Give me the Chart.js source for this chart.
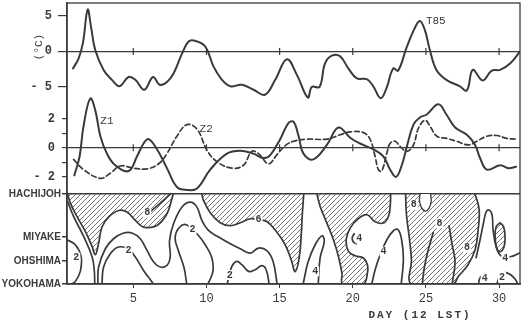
<!DOCTYPE html>
<html>
<head>
<meta charset="utf-8">
<script src="https://cdn.jsdelivr.net/npm/chart.js@4/dist/chart.umd.min.js"></script>
<style>
  html, body { margin: 0; padding: 0; background: #fff; }
  canvas { display: block; }
</style>
</head>
<body>
<canvas id="c" width="527" height="325"></canvas>
<script>
// ---- axis ticks ----
const dayTicks = [5, 10, 15, 20, 25, 30];
const t85Ticks = [-5, 0, 5];
const zTicks = [-2, -1, 0, 1, 2];
const stationPos = [0, 23, 47, 90];
const stationNames = ['YOKOHAMA', 'OHSHIMA', 'MIYAKE', 'HACHIJOH'];

// ---- T85 (deg C) ----
const t85Days = [0.88, 1.26, 1.56, 1.88, 2.11, 2.40, 2.97, 3.54, 4.06, 4.68, 5.14, 5.75, 6.35, 6.8, 7.3, 7.75, 8.33, 8.78, 9.23, 9.92,
  10.48, 11.06, 11.63, 12.42, 13.22, 14.0, 14.7, 15.5, 16.18, 16.93, 17.2, 17.73, 18.1, 18.57, 19.14, 19.7, 20.28, 20.96, 21.4, 21.9,
  22.3, 22.76, 23.1, 23.67, 24.17, 24.58, 24.93, 25.27, 25.72, 26.4, 27.3, 27.8, 28.2, 28.88, 29.5, 30.07, 30.75, 31.43];
const t85Values = [-2.4, -1.0, 1.2, 5.9, 3.5, 0.2, -2.6, -4.0, -4.9, -3.6, -4.0, -5.4, -3.6, -4.7, -4.3, -3.1, -0.3, 1.4, 1.5, 0.7,
  -2.1, -4.0, -4.9, -4.7, -5.4, -6.1, -4.0, -1.1, -3.3, -6.5, -5.0, -5.0, -1.7, -0.6, -0.7, -2.4, -3.8, -3.9, -4.9, -6.6,
  -5.2, -2.4, -2.7, 0.5, 3.0, 4.3, 3.0, 0.2, -2.6, -4.0, -4.9, -5.5, -2.6, -4.1, -2.7, -2.6, -1.7, 0.0];

// ---- Z1 (solid) and Z2 (dashed) ----
const z1Days = [0.97, 1.33, 1.6, 2.06, 2.4, 2.75, 3.2, 3.77, 4.68, 5.25, 5.7, 6.05, 6.62, 7.3, 7.98, 8.67, 9.35, 10.26, 11.4, 12.3,
  13.2, 13.9, 14.36, 15.04, 15.6, 15.95, 16.3, 16.63, 17.3, 18.23, 19.02, 19.82, 20.5, 21.4, 22.1, 22.55, 22.96, 23.35, 23.7, 24.15,
  24.6, 25.06, 25.85, 26.4, 27.0, 27.8, 28.36, 28.7, 29.16, 30.07, 30.64, 31.16];
const z1Values = [-1.9, -0.6, 1.5, 3.4, 2.6, 0.8, -0.4, -1.2, -1.6, -0.6, 0.3, 0.6, -0.1, -1.4, -2.7, -2.9, -2.8, -1.5, -0.4, -0.2,
  -0.4, -0.7, -0.5, 0.6, 1.7, 1.8, 0.8, -0.4, -0.8, 0.2, 1.4, 0.7, 0.3, -0.1, -0.6, -1.5, -2.0, -1.2, 0.1, 1.6,
  2.1, 2.3, 3.0, 2.3, 1.4, 0.9, 0.2, -0.7, -1.5, -1.2, -1.4, -1.3];
const z2Days = [0.92, 1.6, 2.75, 3.43, 4.11, 5.02, 5.94, 6.73, 7.3, 7.98, 8.67, 9.35, 10.03, 10.71, 11.74, 12.53, 13.1, 13.56, 14.24, 14.8,
  15.38, 15.95, 16.86, 18.23, 19.14, 19.82, 20.73, 21.18, 21.53, 21.75, 21.98, 22.32, 22.55, 22.9, 23.24, 23.7, 24.15, 24.49, 24.95, 25.3,
  25.75, 26.43, 27.1, 27.9, 28.47, 29.16, 29.84, 30.52, 31.16];
const z2Values = [-0.8, -1.5, -2.1, -1.75, -1.25, -1.4, -1.45, -1.1, -0.4, 0.8, 1.6, 1.3, -0.15, -0.95, -1.4, -1.2, -0.25, -0.4, -1.1, -0.5,
  0.15, 0.45, 0.6, 0.6, 0.9, 1.1, 1.05, 0.6, -0.6, -1.5, -1.6, -0.4, 0.3, 0.45, 0.1, -0.25, 0.2, 1.35, 1.9, 1.45,
  0.8, 0.65, 0.45, 0.2, 0.45, 0.8, 0.85, 0.65, 0.6];

// ---- contour panel: [day, station distance] ----
const hatchA = [[0.51, 90], [0.70, 81], [1.15, 67.6], [1.72, 52.6], [2.18, 37.6], [2.40, 29.3], [2.61, 39.3], [2.86, 57], [3.31, 67],
  [4.0, 73.6], [4.57, 72], [5.14, 63.6], [5.70, 57], [6.62, 58.6], [7.30, 70.3], [7.64, 85.3], [7.73, 90]];
const hatchB = [[9.69, 90], [9.78, 84.3], [10.26, 71.3], [10.94, 61.3], [11.63, 58.3], [12.31, 61.3], [12.99, 65.3], [13.54, 64.3],
  [14.15, 62.3], [14.84, 51.3], [15.38, 39.3], [15.79, 24.3], [16.07, 12.3], [16.34, 26.3], [16.48, 49.3], [16.55, 69.3], [16.65, 90]];
const hatchC = [[17.55, 90], [17.77, 77.6], [18.23, 61], [18.68, 44.3], [19.02, 27.6], [19.26, 11], [19.32, 0], [20.73, 0], [21.0, 11],
  [21.0, 19.3], [20.73, 26], [20.16, 28.3], [19.71, 32.6], [19.55, 44.3], [19.82, 56], [20.37, 65.3], [20.98, 69.3], [21.53, 62.3],
  [22.10, 61], [22.44, 67.6], [22.56, 77.6], [22.59, 90]];
const hatchD = [[23.61, 90], [23.67, 69.3], [23.88, 44.3], [24.01, 24.3], [24.02, 0], [26.86, 0], [27.2, 7.3], [27.88, 19.3],
  [28.36, 34.3], [28.57, 54.3], [28.64, 74.3], [28.36, 90]];
const hatchE = [[30.07, 61.3], [30.31, 57.3], [30.41, 47.3], [30.34, 37.3], [30.07, 32.3], [29.83, 36.3], [29.73, 47.3], [29.80, 57.3], [30.07, 61.3]];
const holeD = [[24.60, 90], [24.56, 83.5], [24.68, 77], [24.95, 73], [25.22, 76], [25.36, 83], [25.32, 90]];

const contourLines = [
  [[0.47, 44.3], [1.04, 39.3], [1.43, 27.6], [1.38, 12.6], [1.04, 2.6], [0.77, 0]],
  [[0.51, 82.6], [0.92, 67.6], [1.61, 47.6], [2.18, 27.6], [2.33, 14], [2.37, 0]],
  [[2.58, 0], [2.63, 17], [3.09, 35.3], [3.65, 45.3], [4.34, 51], [4.91, 51], [5.48, 45.3], [5.94, 33.6], [6.39, 22], [6.84, 17],
    [7.30, 18.6], [7.52, 27], [7.48, 43.6], [7.75, 60.3], [8.33, 77], [8.89, 82], [9.35, 77], [9.69, 63.6], [10.14, 53.6], [10.83, 47],
    [11.63, 40.3], [12.31, 35.3], [12.99, 31], [13.56, 36], [14.13, 33.3], [14.56, 22.3], [14.83, 0]],
  [[2.86, 0], [2.97, 17], [3.43, 30.3], [4.0, 37], [4.66, 35], [5.14, 27], [5.70, 13.6], [6.28, 2], [6.36, 0]],
  [[6.23, 73.3], [6.71, 79.3], [7.25, 86.3], [7.53, 90]],
  [[8.65, 0], [8.47, 16.3], [8.06, 34.3], [7.86, 46.3], [8.13, 56.3], [8.61, 59.3], [9.41, 49.3], [9.96, 38.3], [10.37, 26.3], [10.44, 12.3], [10.10, 0]],
  [[11.42, 0], [11.56, 9.3], [11.76, 18.3], [12.08, 22.6], [12.42, 19.3], [12.88, 12.6], [13.33, 14.3], [13.79, 18.3], [14.08, 14.3], [14.29, 0]],
  [[16.61, 0], [16.95, 22.3], [17.43, 39.3], [17.91, 48.3], [18.05, 42.3], [17.77, 26.3], [17.64, 0]],
  [[20.10, 50.3], [19.96, 46.3], [20.03, 42.3], [20.23, 40.3]],
  [[21.30, 0], [21.53, 14.3], [21.87, 29.3], [22.33, 44.3], [22.78, 53.3], [23.10, 54.3], [23.34, 44.3], [23.46, 24.3], [23.31, 0]],
  [[25.50, 51.3], [25.16, 34.3], [24.89, 16.3], [24.75, 0]],
  [[26.58, 58.3], [26.79, 39.3], [26.99, 22.3], [26.79, 0]],
  [[28.43, 26.3], [28.70, 44.3], [28.91, 59.3], [29.12, 72.3], [29.32, 74], [29.52, 69.3], [29.59, 54.3], [29.80, 37.3], [30.13, 28.3], [30.87, 27.6], [31.43, 31.3]],
  [[28.59, 0], [28.67, 5.3], [28.84, 8.8]],
  [[29.85, 0], [30.04, 7.3], [30.38, 11.3], [30.79, 9.3], [31.13, 4.3], [31.27, 0]]
];
const contourLabels = [
  [1.11, 26.3, '2'], [4.68, 34.0, '2'], [5.95, 71.3, '8'], [9.05, 54.8, '2'], [13.56, 64.3, '6'], [11.6, 9.0, '2'],
  [17.43, 12.6, '4'], [20.44, 45.8, '4'], [22.10, 32.6, '4'], [24.17, 79.3, '8'], [25.92, 61.0, '8'], [27.81, 36.3, '8'],
  [30.43, 26.0, '4'], [29.02, 6.0, '4'], [30.2, 7.0, '2']
];

const ink = '#3a3a3a';
const pts = (xs, ys) => xs.map((x, i) => ({ x: x, y: ys[i] }));
const poly = arr => arr.map(p => ({ x: p[0], y: p[1] }));

const canvas = document.getElementById('c');
const ctx = canvas.getContext('2d');

// diagonal hatching for the shaded areas
const tile = document.createElement('canvas');
tile.width = 5; tile.height = 5;
const tg = tile.getContext('2d');
tg.strokeStyle = '#555';
tg.lineWidth = 0.8;
tg.beginPath();
tg.moveTo(0, 5); tg.lineTo(5, 0);
tg.moveTo(-1, 1); tg.lineTo(1, -1);
tg.moveTo(4, 6); tg.lineTo(6, 4);
tg.stroke();
const hatch = ctx.createPattern(tile, 'repeat');

const datasets = [
  { data: pts(t85Days, t85Values), yAxisID: 'yT', borderWidth: 2 },
  { data: pts(z1Days, z1Values), yAxisID: 'yZ', borderWidth: 2 },
  { data: pts(z2Days, z2Values), yAxisID: 'yZ', borderWidth: 1.7, borderDash: [5, 3] },
  { data: poly(holeD), yAxisID: 'yC', fill: 'shape', backgroundColor: '#fff', borderWidth: 1.3 }
];
contourLines.forEach(l => datasets.push({ data: poly(l), yAxisID: 'yC', borderWidth: 1.7 }));
[hatchA, hatchB, hatchC, hatchD, hatchE].forEach(h => datasets.push({
  data: poly(h), yAxisID: 'yC', fill: 'shape', backgroundColor: hatch, borderWidth: 1.7
}));

const monoFont = { family: '"Liberation Mono", monospace', size: 12, weight: 'bold' };

const annotate = {
  id: 'annotate',
  afterDatasetsDraw(chart) {
    const { ctx, chartArea } = chart;
    const x = chart.scales.x, yT = chart.scales.yT, yZ = chart.scales.yZ, yC = chart.scales.yC;
    ctx.save();
    ctx.strokeStyle = ink;
    ctx.lineWidth = 1.2;
    [[yT, 0], [yZ, 0]].forEach(([s, v]) => {
      const py = s.getPixelForValue(v);
      dayTicks.forEach(d => {
        const px = x.getPixelForValue(d);
        ctx.beginPath(); ctx.moveTo(px, py - 3.5); ctx.lineTo(px, py + 3.5); ctx.stroke();
      });
    });
    ctx.font = 'bold 10px "Liberation Mono"';
    ctx.textAlign = 'center';
    ctx.textBaseline = 'middle';
    contourLabels.forEach(([d, s, t]) => {
      const px = x.getPixelForValue(d), py = yC.getPixelForValue(s);
      ctx.fillStyle = '#fff';
      ctx.fillRect(px - 4, py - 5, 8, 10);
      ctx.fillStyle = ink;
      ctx.fillText(t, px, py);
    });
    ctx.font = '11px "Liberation Mono"';
    ctx.textAlign = 'left';
    ctx.fillText('T85', x.getPixelForValue(25.0), yT.getPixelForValue(4.34));
    ctx.fillText('Z1', x.getPixelForValue(2.75), yZ.getPixelForValue(1.81));
    ctx.fillText('Z2', x.getPixelForValue(9.53), yZ.getPixelForValue(1.29));
    ctx.lineWidth = 1.3;
    ctx.strokeRect(chartArea.left, chartArea.top, chartArea.right - chartArea.left, chartArea.bottom - chartArea.top);
    ctx.restore();
  },
  afterDraw(chart) {
    const { ctx } = chart;
    ctx.save();
    ctx.fillStyle = ink;
    ctx.font = '11px "Liberation Mono"';
    ctx.textAlign = 'center';
    ctx.textBaseline = 'middle';
    ctx.translate(39, 47);
    ctx.rotate(-Math.PI / 2);
    ctx.fillText('(°C)', 0, 0);
    ctx.restore();
    ctx.save();
    ctx.fillStyle = ink;
    ctx.font = 'bold 11px "Liberation Mono"';
    ctx.letterSpacing = '2px';
    ctx.textAlign = 'center';
    ctx.textBaseline = 'middle';
    ctx.fillText('DAY (12 LST)', 420, 315);
    ctx.restore();
  }
};

const zeroGrid = c => (c.tick && c.tick.value === 0) ? ink : 'rgba(0,0,0,0)';
const fitLeft = s => { s.width = 67; s.paddingTop = 0; s.paddingBottom = 0; };

new Chart(ctx, {
  type: 'line',
  data: { datasets: datasets },
  options: {
    responsive: false,
    animation: false,
    layout: { padding: { left: 0, right: 7, top: 3, bottom: 0 } },
    elements: {
      point: { radius: 0 },
      line: { tension: 0.4, borderColor: ink, fill: false, borderCapStyle: 'round', borderJoinStyle: 'round' }
    },
    plugins: { legend: { display: false }, tooltip: { enabled: false } },
    scales: {
      x: {
        type: 'linear', position: 'bottom', min: 0.47, max: 31.43,
        afterBuildTicks: s => { s.ticks = dayTicks.map(v => ({ value: v })); },
        afterFit: s => { s.height = 41; s.paddingLeft = 0; s.paddingRight = 0; },
        grid: { drawOnChartArea: false, tickLength: 4, color: ink, tickColor: ink },
        border: { color: ink, width: 1.5 },
        ticks: { color: ink, font: { family: '"Liberation Mono", monospace', size: 12 }, padding: 4, maxRotation: 0, autoSkip: false }
      },
      yT: {
        type: 'linear', position: 'left', stack: 'panels', stackWeight: 110, weight: 3, clip: false,
        min: -8.66, max: 6.83,
        afterBuildTicks: s => { s.ticks = t85Ticks.map(v => ({ value: v })); },
        afterFit: fitLeft,
        grid: { color: zeroGrid, tickColor: ink, tickLength: 9, lineWidth: 1.2 },
        border: { color: ink, width: 1.5 },
        ticks: { color: ink, font: monoFont, padding: 6, autoSkip: false, callback: v => v < 0 ? '- ' + (-v) : '' + v }
      },
      yZ: {
        type: 'linear', position: 'left', stack: 'panels', stackWeight: 81.3, weight: 2, clip: false,
        min: -3.19, max: 2.41,
        afterBuildTicks: s => { s.ticks = zTicks.map(v => ({ value: v })); },
        afterFit: fitLeft,
        grid: { color: zeroGrid, tickColor: ink, tickLength: 5, lineWidth: 1.2 },
        border: { color: ink, width: 1.5 },
        ticks: { color: ink, font: monoFont, padding: 7, autoSkip: false,
          callback: v => v % 2 !== 0 ? '' : (v < 0 ? '- ' + (-v) : '' + v) }
      },
      yC: {
        type: 'linear', position: 'left', stack: 'panels', stackWeight: 90, weight: 1,
        min: 0, max: 90,
        afterBuildTicks: s => { s.ticks = stationPos.map(v => ({ value: v })); },
        afterFit: fitLeft,
        grid: { color: c => (c.tick && c.tick.value === 90) ? ink : 'rgba(0,0,0,0)', tickColor: ink, tickLength: 5, lineWidth: 1.5 },
        border: { color: ink, width: 1.5 },
        ticks: { color: ink, font: { family: '"Liberation Sans", sans-serif', size: 10, weight: 'bold' }, padding: 1, autoSkip: false,
          callback: v => stationNames[stationPos.indexOf(v)] }
      }
    }
  },
  plugins: [annotate]
});
</script>
</body>
</html>
